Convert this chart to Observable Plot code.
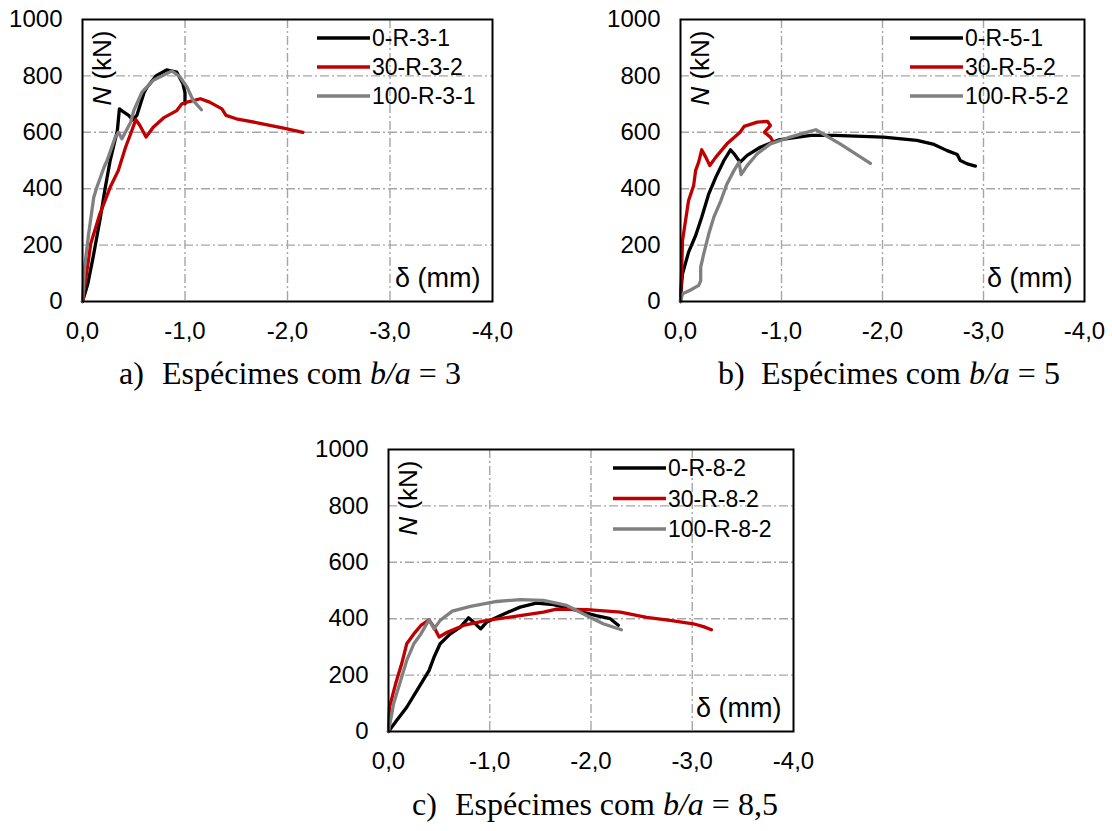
<!DOCTYPE html>
<html><head><meta charset="utf-8">
<script src="https://cdn.jsdelivr.net/npm/d3@7"></script>
<script src="https://cdn.jsdelivr.net/npm/@observablehq/plot@0.6"></script>
<style>
body{margin:0;background:#fff;}
#root{position:relative;width:1112px;height:831px;overflow:hidden;background:#fff;}
.panel{position:absolute;}
.cap{position:absolute;font-family:"Liberation Serif","Times New Roman",serif;line-height:1;color:#000;white-space:pre;}
</style></head><body><div id="root"></div>
<script>
// ---- data (δ in mm, N in kN) ----
const xTicks = [0, -1, -2, -3, -4];
const yTicks = [0, 200, 400, 600, 800, 1000];
const colors = ["#000000", "#c00000", "#808080"];

const namesA = ["0-R-3-1", "30-R-3-2", "100-R-3-1"];
const a0 = [[0,0],[-0.05,60],[-0.1,150],[-0.175,299],[-0.22,400],[-0.27,500],[-0.34,606],[-0.36,683],[-0.40,672],[-0.45,660],[-0.49,644],[-0.53,660],[-0.6,740],[-0.63,760],[-0.72,801],[-0.82,821],[-0.92,813],[-0.98,772],[-1.0,740],[-1.0,701]];
const a1 = [[0,0],[-0.04,100],[-0.08,205],[-0.17,311],[-0.27,405],[-0.35,465],[-0.42,547],[-0.47,595],[-0.52,645],[-0.56,624],[-0.62,583],[-0.69,618],[-0.79,651],[-0.92,677],[-0.97,701],[-1.05,710],[-1.15,719],[-1.24,707],[-1.36,683],[-1.40,660],[-1.50,648],[-1.73,632],[-1.95,616],[-2.15,600]];
const a2 = [[0,0],[-0.02,120],[-0.06,240],[-0.11,370],[-0.14,405],[-0.21,476],[-0.24,500],[-0.32,583],[-0.35,600],[-0.375,583],[-0.385,577],[-0.47,636],[-0.5,677],[-0.58,742],[-0.6,750],[-0.69,784],[-0.72,790],[-0.87,817],[-0.89,813],[-0.95,797],[-1.02,760],[-1.08,713],[-1.16,680]];

const namesB = ["0-R-5-1", "30-R-5-2", "100-R-5-2"];
const b0 = [[0,0],[-0.01,60],[-0.02,98],[-0.08,175],[-0.15,234],[-0.21,299],[-0.28,382],[-0.35,441],[-0.43,500],[-0.495,538],[-0.53,524],[-0.59,494],[-0.66,518],[-0.79,547],[-0.97,573],[-1.29,589],[-1.52,589],[-2.01,583],[-2.34,571],[-2.51,557],[-2.64,535],[-2.74,521],[-2.77,500],[-2.84,488],[-2.92,480]];
const b1 = [[0,0],[-0.01,95],[-0.02,216],[-0.05,287],[-0.08,358],[-0.13,411],[-0.15,465],[-0.18,494],[-0.21,538],[-0.25,512],[-0.29,482],[-0.35,512],[-0.46,559],[-0.59,600],[-0.63,621],[-0.76,636],[-0.86,639],[-0.89,624],[-0.83,600],[-0.89,583],[-0.91,571]];
const b2 = [[0,0],[-0.02,27],[-0.1,41],[-0.18,57],[-0.2,74],[-0.2,122],[-0.23,169],[-0.28,240],[-0.33,299],[-0.40,358],[-0.46,417],[-0.53,465],[-0.58,494],[-0.60,450],[-0.66,482],[-0.76,524],[-0.89,559],[-1.06,580],[-1.22,597],[-1.34,609],[-1.58,559],[-1.88,490]];

const namesC = ["0-R-8-2", "30-R-8-2", "100-R-8-2"];
const c0 = [[0,0],[-0.08,39],[-0.18,86],[-0.28,145],[-0.40,216],[-0.45,264],[-0.51,311],[-0.61,346],[-0.71,370],[-0.79,403],[-0.84,388],[-0.91,364],[-0.97,388],[-1.14,417],[-1.30,441],[-1.46,455],[-1.63,450],[-1.86,429],[-2.05,411],[-2.19,400],[-2.27,377]];
const c1 = [[0,0],[-0.01,86],[-0.07,169],[-0.13,240],[-0.18,311],[-0.25,346],[-0.32,376],[-0.40,396],[-0.45,370],[-0.50,335],[-0.58,352],[-0.74,376],[-0.97,394],[-1.30,411],[-1.53,423],[-1.66,434],[-1.96,432],[-2.29,423],[-2.55,405],[-2.78,394],[-3.01,382],[-3.11,372],[-3.19,361]];
const c2 = [[0,0],[-0.05,98],[-0.12,181],[-0.18,252],[-0.25,311],[-0.32,346],[-0.40,396],[-0.45,364],[-0.51,394],[-0.63,427],[-0.81,444],[-1.07,461],[-1.30,468],[-1.53,465],[-1.76,447],[-1.86,429],[-1.99,405],[-2.12,382],[-2.30,361]];

const captions = [
  {tag: "a)", text: "Espécimes com <i>b/a</i> = 3", x: 119, base: 386},
  {tag: "b)", text: "Espécimes com <i>b/a</i> = 5", x: 718, base: 386},
  {tag: "c)", text: "Espécimes com <i>b/a</i> = 8,5", x: 412, base: 817}
];

// ---- drawing ----
const root = document.getElementById("root");
const fmt = d => (Object.is(d, -0) ? 0 : d).toFixed(1).replace(".", ",");
const FONT = "'Liberation Sans', Arial, sans-serif";

function panel({names, series, left, top, frameW, legX, legY, legStep}) {
  const data = series.flatMap((pts, i) => pts.map(([d, n]) => ({d, n, name: names[i]})));
  const mL = 82, mT = 19, mR = 24, mB = 45, fH = 282;
  const grid = {stroke: "#a6a6a6", strokeOpacity: 1, strokeWidth: 1.4, strokeDasharray: "9,3,2,3"};
  const chart = Plot.plot({
    width: mL + frameW + mR, height: mT + fH + mB,
    marginLeft: mL, marginTop: mT, marginRight: mR, marginBottom: mB,
    style: {fontFamily: FONT, fontSize: "24px", color: "#000", background: "transparent", overflow: "visible"},
    x: {domain: [0, -4], label: null},
    y: {domain: [0, 1000], label: null},
    color: {domain: names, range: colors},
    marks: [
      Plot.gridX(xTicks.slice(1, -1), grid),
      Plot.gridY(yTicks.slice(1, -1), grid),
      Plot.axisX(xTicks, {tickSize: 0, tickPadding: 20, tickFormat: fmt, label: null, fontSize: 24}),
      Plot.axisY(yTicks, {tickSize: 0, tickPadding: 20, tickFormat: d => String(d), label: null, fontSize: 24}),
      Plot.line(data, {x: "d", y: "n", z: "name", stroke: "name", strokeWidth: 3.3, strokeLinejoin: "round", strokeLinecap: "round"}),
      Plot.frame({stroke: "#000", strokeWidth: 2}),
      Plot.text(["N (kN)"], {frameAnchor: "top-left", dx: 20, dy: 11, rotate: -90, textAnchor: "end", lineAnchor: "middle", fontSize: 26}),
      Plot.text(["δ (mm)"], {frameAnchor: "bottom-right", dx: -12, dy: -23, textAnchor: "end", lineAnchor: "middle", fontSize: 27})
    ]
  });
  const svg = d3.select(chart);
  // italic N in axis title
  svg.selectAll("text").filter(function() { return this.textContent === "N (kN)"; })
    .each(function() {
      const t = d3.select(this); t.text(null);
      t.append("tspan").attr("font-style", "italic").text("N");
      t.append("tspan").text(" (kN)");
    });
  // legend
  const fr = mL + frameW;
  const g = svg.append("g").attr("font-family", FONT).attr("font-size", 23).attr("text-anchor", "start");
  names.forEach((nm, i) => {
    const y = legY + i * legStep;
    g.append("line").attr("x1", fr - legX).attr("x2", fr - legX + 53).attr("y1", y).attr("y2", y)
      .attr("stroke", colors[i]).attr("stroke-width", 3.5);
    g.append("text").attr("x", fr - legX + 55).attr("y", y).attr("dy", "0.36em").attr("fill", "#000").text(nm);
  });
  const div = document.createElement("div");
  div.className = "panel";
  div.style.left = left + "px"; div.style.top = top + "px";
  div.appendChild(chart);
  root.appendChild(div);
}

panel({names: namesA, series: [a0, a1, a2], left: 0, top: 0, frameW: 410, legX: 175, legY: 38, legStep: 29});
panel({names: namesB, series: [b0, b1, b2], left: 598, top: 0, frameW: 404, legX: 174, legY: 38, legStep: 29});
panel({names: namesC, series: [c0, c1, c2], left: 306, top: 430, frameW: 405, legX: 180, legY: 38, legStep: 30.5});

const capFs = 32;
captions.forEach(c => {
  const top = (c.base - 0.891 * capFs) + "px";
  const t = document.createElement("div");
  t.className = "cap"; t.style.fontSize = capFs + "px";
  t.style.left = c.x + "px"; t.style.top = top;
  t.innerHTML = c.tag;
  root.appendChild(t);
  const s = document.createElement("div");
  s.className = "cap"; s.style.fontSize = capFs + "px";
  s.style.left = (c.x + 43) + "px"; s.style.top = top;
  s.innerHTML = c.text;
  root.appendChild(s);
});
</script></body></html>
